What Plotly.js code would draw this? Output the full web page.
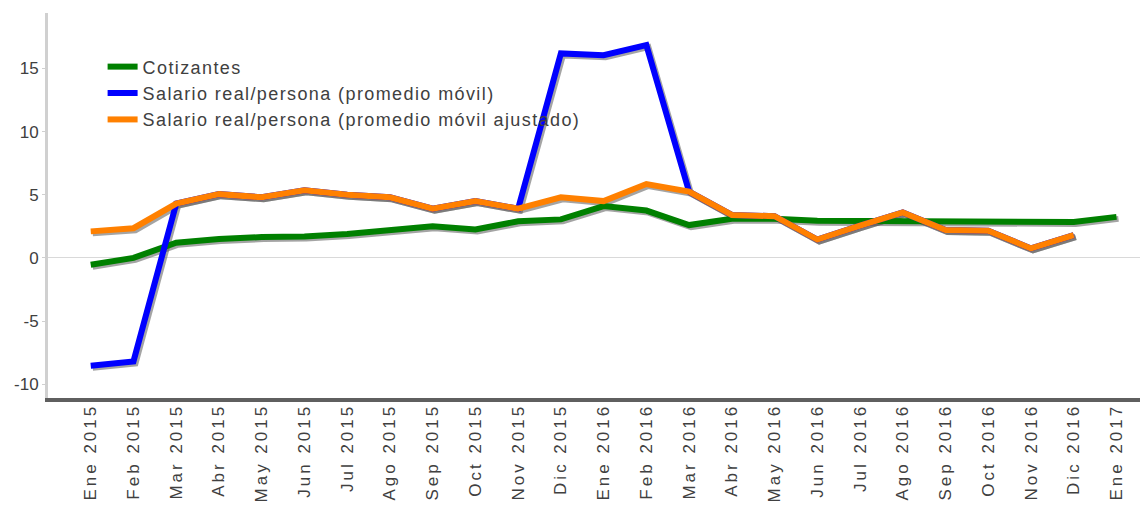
<!DOCTYPE html>
<html>
<head>
<meta charset="utf-8">
<script src="https://cdn.plot.ly/plotly-3.0.1.min.js"></script>
<style>
html,body{margin:0;padding:0;background:#fff;}
#chart{width:1140px;height:508px;}
#chart .x2tick text, #chart .xtick text{letter-spacing:3px;}
#chart .legendtext{letter-spacing:1.4px;}
#chart .legend .scrollbox{clip-path:none !important;}
</style>
</head>
<body>
<div id="chart"></div>
<script>
// Categories (months)
const categories = ["Ene 2015","Feb 2015","Mar 2015","Abr 2015","May 2015","Jun 2015","Jul 2015","Ago 2015","Sep 2015","Oct 2015","Nov 2015","Dic 2015",
  "Ene 2016","Feb 2016","Mar 2016","Abr 2016","May 2016","Jun 2016","Jul 2016","Ago 2016","Sep 2016","Oct 2016","Nov 2016","Dic 2016","Ene 2017"];

// Series values
const cotizantes = [-0.55, 0.0, 1.2, 1.5, 1.65, 1.7, 1.9, 2.2, 2.5, 2.25, 2.9, 3.05,
  4.1, 3.75, 2.6, 3.1, 3.1, 2.95, 2.95, 2.95, 2.9, 2.95, 2.9, 2.85, 3.25];
const salarioMovil = [-8.55, -8.2, 4.3, 5.05, 4.8, 5.35, 5.0, 4.8, 3.9, 4.5, 3.9, 16.2,
  16.05, 16.85, 5.25, 3.4, 3.3, 1.45, 2.55, 3.6, 2.2, 2.15, 0.75, 1.8, null];
const salarioAjustado = [2.1, 2.35, 4.3, 5.05, 4.8, 5.35, 5.0, 4.8, 3.9, 4.5, 3.9, 4.8,
  4.5, 5.85, 5.25, 3.4, 3.3, 1.45, 2.55, 3.6, 2.2, 2.15, 0.75, 1.8, null];

// Tick labels of the value axis
const yTickVals = [-10, -5, 0, 5, 10, 15];
const yTickText = ["-10", "-5", "0", "5", "10", "15"];

const seriesNames = ["Cotizantes", "Salario real/persona (promedio móvil)", "Salario real/persona (promedio móvil ajustado)"];
const seriesValues = [cotizantes, salarioMovil, salarioAjustado];
const seriesColors = ["#008000", "#0000FF", "#FF8000"];

const xIdx = categories.map((c, i) => i);
const xRange = [-1, 24.55];
const yRange = [-11.1, 19.4];
// shadow offset (px) converted to data units
const plotW = 1140 - 48, plotH = 398 - 13;
const dxUnits = 2 * (xRange[1] - xRange[0]) / plotW;
const dyUnits = 2 * (yRange[1] - yRange[0]) / plotH;

const FONT = "Liberation Sans, Arial, sans-serif";
const traces = [];
// shadows on hidden, shifted axes (x, y)
seriesValues.forEach((vals) => {
  traces.push({
    x: xIdx, y: vals, type: "scatter", mode: "lines",
    line: {color: "rgba(90,90,90,0.55)", width: 6},
    xaxis: "x", yaxis: "y", showlegend: false, hoverinfo: "skip"
  });
});
// main series on visible axes (x2, y2)
seriesValues.forEach((vals, k) => {
  traces.push({
    x: xIdx, y: vals, type: "scatter", mode: "lines", name: seriesNames[k],
    line: {color: seriesColors[k], width: 6},
    xaxis: "x2", yaxis: "y2"
  });
});

const layout = {
  width: 1140, height: 508,
  margin: {l: 48, r: 0, t: 13, b: 110},
  paper_bgcolor: "#fff", plot_bgcolor: "rgba(0,0,0,0)",
  font: {family: FONT, color: "#404040", size: 16},
  showlegend: true,
  legend: {
    x: 0.05, y: 0.908, xanchor: "left", yanchor: "top",
    bgcolor: "rgba(0,0,0,0)", font: {family: FONT, size: 18, color: "#404040"},
    tracegroupgap: 0, itemwidth: 30
  },
  xaxis: {
    range: [xRange[0] - dxUnits, xRange[1] - dxUnits], visible: false, fixedrange: true
  },
  yaxis: {
    range: [yRange[0] + dyUnits, yRange[1] + dyUnits], visible: false, fixedrange: true
  },
  xaxis2: {
    overlaying: "x", range: xRange,
    tickmode: "array", tickvals: xIdx, ticktext: categories,
    tickangle: -90, tickfont: {family: FONT, size: 17, color: "#404040"},
    showgrid: false, zeroline: false,
    showline: true, linecolor: "#5f5f5f", linewidth: 4,
    ticks: "", ticklabelstandoff: -5, anchor: "y2"
  },
  yaxis2: {
    overlaying: "y", range: yRange, anchor: "x2",
    tickmode: "array", tickvals: yTickVals, ticktext: yTickText,
    tickfont: {family: FONT, size: 17, color: "#404040"},
    showgrid: false, zeroline: true, zerolinecolor: "#d9d9d9", zerolinewidth: 1,
    showline: true, linecolor: "#d0d0d0", linewidth: 3,
    ticks: "outside", ticklen: 3, tickcolor: "#d0d0d0", tickwidth: 1
  }
};

Plotly.newPlot("chart", traces, layout, {staticPlot: true, displayModeBar: false});
</script>
</body>
</html>
